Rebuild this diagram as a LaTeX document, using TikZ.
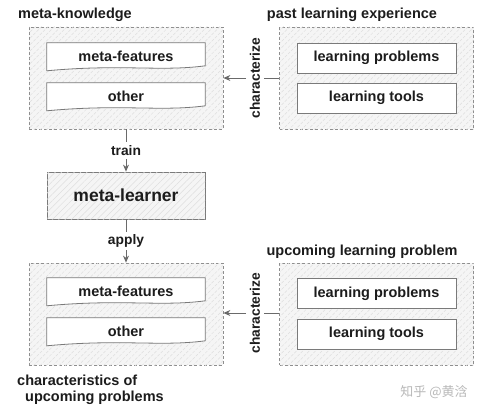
\documentclass[tikz,border=0pt]{standalone}
\usepackage{fontspec}
\setmainfont{Liberation Sans}
\newfontfamily\cjkf{Noto Sans CJK SC}
\usetikzlibrary{arrows.meta,patterns.meta,calc}
\definecolor{bordergray}{HTML}{7A7A7A}
\definecolor{dashgray}{HTML}{8E8E8E}
\definecolor{hatchbg}{HTML}{F5F5F5}
\definecolor{hatchline}{HTML}{DEDEDE}
\definecolor{arrowgray}{HTML}{6A6A6A}
\definecolor{txt}{HTML}{1C1C1C}
\definecolor{wmark}{HTML}{B8B8B8}
\pgfdeclarelayer{bgzero}
\pgfdeclarelayer{bgone}
\pgfsetlayers{bgzero,bgone,main}
\tikzset{
  hatched/.style={fill=hatchbg, postaction={pattern={Lines[angle=45,distance=4.5pt,line width=0.5pt]}, pattern color=hatchline}},
  group/.style={draw=dashgray, dash pattern=on 3pt off 2pt, line width=0.8pt, hatched, minimum width=194pt, minimum height=102pt, inner sep=0pt},
  boxfont/.style={font=\bfseries\fontsize{14.5}{17}\selectfont, text=txt},
  docslot/.style={boxfont, minimum width=158pt, minimum height=26pt, inner sep=0pt},
  docline/.style={draw=bordergray, line width=0.8pt, fill=white},
  plainbox/.style={boxfont, draw=bordergray, line width=0.8pt, fill=white, minimum width=159pt, minimum height=30pt, inner sep=0pt},
  learnerbox/.style={draw=bordergray, line width=0.8pt, hatched, minimum width=158pt, minimum height=47pt, inner sep=0pt, font=\bfseries\fontsize{17.5}{20}\selectfont, text=txt},
  title/.style={font=\bfseries\fontsize{14.5}{17}\selectfont, text=txt, inner sep=0pt},
  edgelbl/.style={font=\bfseries\fontsize{13.8}{16}\selectfont, text=txt, fill=white, inner sep=3pt},
  charlbl/.style={font=\bfseries\fontsize{13.8}{16}\selectfont, text=txt, rotate=90, inner sep=3.5pt},
  arr/.style={draw=arrowgray, line width=0.8pt, -{Stealth[length=7pt,width=6pt]}},
  lin/.style={draw=arrowgray, line width=0.8pt},
}
\newcommand\docshape[1]{%
  \draw[docline] (#1.north west) -- (#1.north east) -- ($(#1.north east)+(0,23)$)
    .. controls ($(#1.north east)+(-45,29)$) and ($(#1.north west)+(75,21)$) ..
    ($(#1.north west)+(0,28)$) -- cycle;}
\begin{document}
\begin{tikzpicture}[x=1pt,y=-1pt]
\useasboundingbox (0,0) rectangle (485,412);
% groups
\begin{pgfonlayer}{bgzero}
\node[group] (mk) at (126,78) {};
\node[group] (pl) at (376.5,78) {};
\node[group] (ch) at (126,314) {};
\node[group] (ul) at (376.5,314) {};
\end{pgfonlayer}
% left doc shapes
\node[docslot] (mf1) at (126,56) {meta-features};
\node[docslot] (ot1) at (126,96) {other};
\node[docslot] (mf2) at (126,291) {meta-features};
\node[docslot] (ot2) at (126,331) {other};
\begin{pgfonlayer}{bgone}
\docshape{mf1}
\docshape{ot1}
\docshape{mf2}
\docshape{ot2}
\end{pgfonlayer}
% right boxes
\node[plainbox] (lp1) at (376.5,58) {learning problems};
\node[plainbox] (lt1) at (376.5,98) {learning tools};
\node[plainbox] (lp2) at (376.5,293.5) {learning problems};
\node[plainbox] (lt2) at (376.5,334) {learning tools};
% meta-learner
\node[learnerbox] (ml) at (126,195.5) {meta-learner};
% titles
\node[title, anchor=west] (tmk) at (18,15) {meta-knowledge};
\node[title] (tpl) at (352,15) {past learning experience};
\node[title] (tul) at (362,252) {upcoming learning problem};
\node[title, anchor=west] (tch1) at (17,380) {characteristics of};
\node[title, anchor=west] (tch2) at (25,398) {upcoming problems};
% characterize connectors
\node[charlbl] (c1) at (255,78) {characterize};
\node[charlbl] (c2) at (255,313) {characterize};
\draw[lin] (pl.west) -- (c1.south);
\draw[arr] (c1.north) -- (mk.east);
\draw[lin] (ul.west |- c2) -- (c2.south);
\draw[arr] (c2.north) -- (ch.east |- c2);
% train / apply
\draw[arr] (mk.south) -- node[edgelbl] (tr) {train} (ml.north);
\draw[arr] (ml.south) -- node[edgelbl] (ap) {apply} (ch.north);
% watermark
\node[font=\cjkf\fontsize{13}{15}\selectfont, text=wmark, inner sep=0pt] (wm) at (434,392) {知乎 @黄浛};
\end{tikzpicture}
\end{document}
